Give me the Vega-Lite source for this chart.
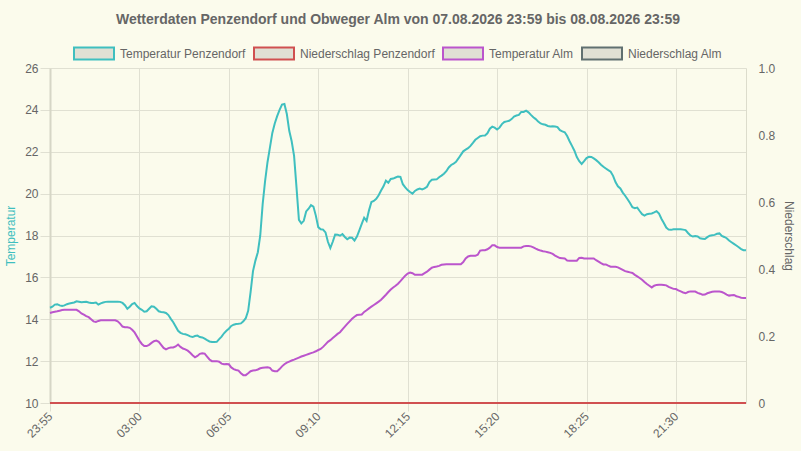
{
  "$schema": "https://vega.github.io/schema/vega-lite/v6.json",
  "autosize": {"type": "none"},
  "width": 696,
  "height": 335,
  "padding": {"left": 50, "top": 68, "right": 55, "bottom": 48},
  "background": "#fbfbec",
  "title": {
    "text": "Wetterdaten Penzendorf und Obweger Alm von 07.08.2026 23:59 bis 08.08.2026 23:59",
    "fontSize": 14,
    "fontWeight": "bold",
    "color": "#666666",
    "anchor": "middle",
    "baseline": "bottom",
    "offset": 8,
    "dy": 16
  },
  "data": {
    "values": [
      {"t":"2026-08-07T23:55","tp":14.55,"ta":14.3,"np":0,"na":0},
      {"t":"2026-08-08T00:00","tp":14.6,"ta":14.33,"np":0,"na":0},
      {"t":"2026-08-08T00:05","tp":14.7,"ta":14.36,"np":0,"na":0},
      {"t":"2026-08-08T00:10","tp":14.72,"ta":14.38,"np":0,"na":0},
      {"t":"2026-08-08T00:15","tp":14.66,"ta":14.41,"np":0,"na":0},
      {"t":"2026-08-08T00:20","tp":14.63,"ta":14.44,"np":0,"na":0},
      {"t":"2026-08-08T00:25","tp":14.66,"ta":14.45,"np":0,"na":0},
      {"t":"2026-08-08T00:30","tp":14.72,"ta":14.45,"np":0,"na":0},
      {"t":"2026-08-08T00:35","tp":14.75,"ta":14.45,"np":0,"na":0},
      {"t":"2026-08-08T00:40","tp":14.78,"ta":14.45,"np":0,"na":0},
      {"t":"2026-08-08T00:45","tp":14.8,"ta":14.45,"np":0,"na":0},
      {"t":"2026-08-08T00:50","tp":14.86,"ta":14.45,"np":0,"na":0},
      {"t":"2026-08-08T00:55","tp":14.84,"ta":14.38,"np":0,"na":0},
      {"t":"2026-08-08T01:00","tp":14.81,"ta":14.28,"np":0,"na":0},
      {"t":"2026-08-08T01:05","tp":14.82,"ta":14.22,"np":0,"na":0},
      {"t":"2026-08-08T01:10","tp":14.83,"ta":14.15,"np":0,"na":0},
      {"t":"2026-08-08T01:15","tp":14.8,"ta":14.1,"np":0,"na":0},
      {"t":"2026-08-08T01:20","tp":14.78,"ta":14.0,"np":0,"na":0},
      {"t":"2026-08-08T01:25","tp":14.78,"ta":13.9,"np":0,"na":0},
      {"t":"2026-08-08T01:30","tp":14.8,"ta":13.87,"np":0,"na":0},
      {"t":"2026-08-08T01:35","tp":14.7,"ta":13.92,"np":0,"na":0},
      {"t":"2026-08-08T01:40","tp":14.76,"ta":13.95,"np":0,"na":0},
      {"t":"2026-08-08T01:45","tp":14.8,"ta":13.95,"np":0,"na":0},
      {"t":"2026-08-08T01:50","tp":14.83,"ta":13.95,"np":0,"na":0},
      {"t":"2026-08-08T01:55","tp":14.84,"ta":13.95,"np":0,"na":0},
      {"t":"2026-08-08T02:00","tp":14.84,"ta":13.95,"np":0,"na":0},
      {"t":"2026-08-08T02:05","tp":14.84,"ta":13.95,"np":0,"na":0},
      {"t":"2026-08-08T02:10","tp":14.84,"ta":13.95,"np":0,"na":0},
      {"t":"2026-08-08T02:15","tp":14.84,"ta":13.9,"np":0,"na":0},
      {"t":"2026-08-08T02:20","tp":14.83,"ta":13.79,"np":0,"na":0},
      {"t":"2026-08-08T02:25","tp":14.78,"ta":13.65,"np":0,"na":0},
      {"t":"2026-08-08T02:30","tp":14.67,"ta":13.62,"np":0,"na":0},
      {"t":"2026-08-08T02:35","tp":14.5,"ta":13.62,"np":0,"na":0},
      {"t":"2026-08-08T02:40","tp":14.6,"ta":13.59,"np":0,"na":0},
      {"t":"2026-08-08T02:45","tp":14.72,"ta":13.5,"np":0,"na":0},
      {"t":"2026-08-08T02:50","tp":14.78,"ta":13.37,"np":0,"na":0},
      {"t":"2026-08-08T02:55","tp":14.63,"ta":13.18,"np":0,"na":0},
      {"t":"2026-08-08T03:00","tp":14.52,"ta":12.98,"np":0,"na":0},
      {"t":"2026-08-08T03:05","tp":14.45,"ta":12.82,"np":0,"na":0},
      {"t":"2026-08-08T03:10","tp":14.36,"ta":12.72,"np":0,"na":0},
      {"t":"2026-08-08T03:15","tp":14.38,"ta":12.72,"np":0,"na":0},
      {"t":"2026-08-08T03:20","tp":14.5,"ta":12.78,"np":0,"na":0},
      {"t":"2026-08-08T03:25","tp":14.62,"ta":12.87,"np":0,"na":0},
      {"t":"2026-08-08T03:30","tp":14.6,"ta":12.95,"np":0,"na":0},
      {"t":"2026-08-08T03:35","tp":14.5,"ta":12.98,"np":0,"na":0},
      {"t":"2026-08-08T03:40","tp":14.38,"ta":12.92,"np":0,"na":0},
      {"t":"2026-08-08T03:45","tp":14.35,"ta":12.78,"np":0,"na":0},
      {"t":"2026-08-08T03:50","tp":14.33,"ta":12.63,"np":0,"na":0},
      {"t":"2026-08-08T03:55","tp":14.3,"ta":12.56,"np":0,"na":0},
      {"t":"2026-08-08T04:00","tp":14.2,"ta":12.62,"np":0,"na":0},
      {"t":"2026-08-08T04:05","tp":14.02,"ta":12.65,"np":0,"na":0},
      {"t":"2026-08-08T04:10","tp":13.86,"ta":12.65,"np":0,"na":0},
      {"t":"2026-08-08T04:15","tp":13.65,"ta":12.7,"np":0,"na":0},
      {"t":"2026-08-08T04:20","tp":13.45,"ta":12.79,"np":0,"na":0},
      {"t":"2026-08-08T04:25","tp":13.35,"ta":12.68,"np":0,"na":0},
      {"t":"2026-08-08T04:30","tp":13.3,"ta":12.6,"np":0,"na":0},
      {"t":"2026-08-08T04:35","tp":13.28,"ta":12.56,"np":0,"na":0},
      {"t":"2026-08-08T04:40","tp":13.24,"ta":12.5,"np":0,"na":0},
      {"t":"2026-08-08T04:45","tp":13.18,"ta":12.4,"np":0,"na":0},
      {"t":"2026-08-08T04:50","tp":13.15,"ta":12.28,"np":0,"na":0},
      {"t":"2026-08-08T04:55","tp":13.2,"ta":12.18,"np":0,"na":0},
      {"t":"2026-08-08T05:00","tp":13.22,"ta":12.25,"np":0,"na":0},
      {"t":"2026-08-08T05:05","tp":13.15,"ta":12.35,"np":0,"na":0},
      {"t":"2026-08-08T05:10","tp":13.13,"ta":12.38,"np":0,"na":0},
      {"t":"2026-08-08T05:15","tp":13.07,"ta":12.36,"np":0,"na":0},
      {"t":"2026-08-08T05:20","tp":13.0,"ta":12.22,"np":0,"na":0},
      {"t":"2026-08-08T05:25","tp":12.94,"ta":12.08,"np":0,"na":0},
      {"t":"2026-08-08T05:30","tp":12.91,"ta":12.0,"np":0,"na":0},
      {"t":"2026-08-08T05:35","tp":12.91,"ta":12.0,"np":0,"na":0},
      {"t":"2026-08-08T05:40","tp":12.92,"ta":12.0,"np":0,"na":0},
      {"t":"2026-08-08T05:45","tp":13.05,"ta":11.97,"np":0,"na":0},
      {"t":"2026-08-08T05:50","tp":13.17,"ta":11.88,"np":0,"na":0},
      {"t":"2026-08-08T05:55","tp":13.33,"ta":11.85,"np":0,"na":0},
      {"t":"2026-08-08T06:00","tp":13.45,"ta":11.86,"np":0,"na":0},
      {"t":"2026-08-08T06:05","tp":13.55,"ta":11.85,"np":0,"na":0},
      {"t":"2026-08-08T06:10","tp":13.68,"ta":11.7,"np":0,"na":0},
      {"t":"2026-08-08T06:15","tp":13.74,"ta":11.62,"np":0,"na":0},
      {"t":"2026-08-08T06:20","tp":13.77,"ta":11.58,"np":0,"na":0},
      {"t":"2026-08-08T06:25","tp":13.78,"ta":11.55,"np":0,"na":0},
      {"t":"2026-08-08T06:30","tp":13.8,"ta":11.42,"np":0,"na":0},
      {"t":"2026-08-08T06:35","tp":13.9,"ta":11.33,"np":0,"na":0},
      {"t":"2026-08-08T06:40","tp":14.05,"ta":11.33,"np":0,"na":0},
      {"t":"2026-08-08T06:45","tp":14.4,"ta":11.42,"np":0,"na":0},
      {"t":"2026-08-08T06:50","tp":15.3,"ta":11.52,"np":0,"na":0},
      {"t":"2026-08-08T06:55","tp":16.3,"ta":11.55,"np":0,"na":0},
      {"t":"2026-08-08T07:00","tp":16.8,"ta":11.56,"np":0,"na":0},
      {"t":"2026-08-08T07:05","tp":17.2,"ta":11.6,"np":0,"na":0},
      {"t":"2026-08-08T07:10","tp":18.0,"ta":11.66,"np":0,"na":0},
      {"t":"2026-08-08T07:15","tp":19.5,"ta":11.68,"np":0,"na":0},
      {"t":"2026-08-08T07:20","tp":20.6,"ta":11.7,"np":0,"na":0},
      {"t":"2026-08-08T07:25","tp":21.5,"ta":11.71,"np":0,"na":0},
      {"t":"2026-08-08T07:30","tp":22.2,"ta":11.68,"np":0,"na":0},
      {"t":"2026-08-08T07:35","tp":22.9,"ta":11.55,"np":0,"na":0},
      {"t":"2026-08-08T07:40","tp":23.35,"ta":11.52,"np":0,"na":0},
      {"t":"2026-08-08T07:45","tp":23.7,"ta":11.52,"np":0,"na":0},
      {"t":"2026-08-08T07:50","tp":24.0,"ta":11.62,"np":0,"na":0},
      {"t":"2026-08-08T07:55","tp":24.25,"ta":11.75,"np":0,"na":0},
      {"t":"2026-08-08T08:00","tp":24.28,"ta":11.85,"np":0,"na":0},
      {"t":"2026-08-08T08:05","tp":23.8,"ta":11.93,"np":0,"na":0},
      {"t":"2026-08-08T08:10","tp":23.0,"ta":11.98,"np":0,"na":0},
      {"t":"2026-08-08T08:15","tp":22.5,"ta":12.03,"np":0,"na":0},
      {"t":"2026-08-08T08:20","tp":21.8,"ta":12.07,"np":0,"na":0},
      {"t":"2026-08-08T08:25","tp":20.3,"ta":12.12,"np":0,"na":0},
      {"t":"2026-08-08T08:30","tp":18.75,"ta":12.17,"np":0,"na":0},
      {"t":"2026-08-08T08:35","tp":18.58,"ta":12.22,"np":0,"na":0},
      {"t":"2026-08-08T08:40","tp":18.7,"ta":12.26,"np":0,"na":0},
      {"t":"2026-08-08T08:45","tp":19.15,"ta":12.3,"np":0,"na":0},
      {"t":"2026-08-08T08:50","tp":19.28,"ta":12.34,"np":0,"na":0},
      {"t":"2026-08-08T08:55","tp":19.45,"ta":12.38,"np":0,"na":0},
      {"t":"2026-08-08T09:00","tp":19.38,"ta":12.42,"np":0,"na":0},
      {"t":"2026-08-08T09:05","tp":18.95,"ta":12.47,"np":0,"na":0},
      {"t":"2026-08-08T09:10","tp":18.4,"ta":12.53,"np":0,"na":0},
      {"t":"2026-08-08T09:15","tp":18.3,"ta":12.58,"np":0,"na":0},
      {"t":"2026-08-08T09:20","tp":18.28,"ta":12.68,"np":0,"na":0},
      {"t":"2026-08-08T09:25","tp":18.15,"ta":12.8,"np":0,"na":0},
      {"t":"2026-08-08T09:30","tp":17.7,"ta":12.92,"np":0,"na":0},
      {"t":"2026-08-08T09:35","tp":17.4,"ta":13.0,"np":0,"na":0},
      {"t":"2026-08-08T09:40","tp":17.7,"ta":13.1,"np":0,"na":0},
      {"t":"2026-08-08T09:45","tp":18.05,"ta":13.2,"np":0,"na":0},
      {"t":"2026-08-08T09:50","tp":18.04,"ta":13.3,"np":0,"na":0},
      {"t":"2026-08-08T09:55","tp":17.99,"ta":13.38,"np":0,"na":0},
      {"t":"2026-08-08T10:00","tp":18.07,"ta":13.52,"np":0,"na":0},
      {"t":"2026-08-08T10:05","tp":17.93,"ta":13.65,"np":0,"na":0},
      {"t":"2026-08-08T10:10","tp":17.82,"ta":13.78,"np":0,"na":0},
      {"t":"2026-08-08T10:15","tp":17.9,"ta":13.9,"np":0,"na":0},
      {"t":"2026-08-08T10:20","tp":17.89,"ta":14.02,"np":0,"na":0},
      {"t":"2026-08-08T10:25","tp":17.76,"ta":14.12,"np":0,"na":0},
      {"t":"2026-08-08T10:30","tp":17.95,"ta":14.2,"np":0,"na":0},
      {"t":"2026-08-08T10:35","tp":18.25,"ta":14.22,"np":0,"na":0},
      {"t":"2026-08-08T10:40","tp":18.55,"ta":14.23,"np":0,"na":0},
      {"t":"2026-08-08T10:45","tp":18.85,"ta":14.35,"np":0,"na":0},
      {"t":"2026-08-08T10:50","tp":18.7,"ta":14.43,"np":0,"na":0},
      {"t":"2026-08-08T10:55","tp":19.2,"ta":14.52,"np":0,"na":0},
      {"t":"2026-08-08T11:00","tp":19.6,"ta":14.6,"np":0,"na":0},
      {"t":"2026-08-08T11:05","tp":19.65,"ta":14.68,"np":0,"na":0},
      {"t":"2026-08-08T11:10","tp":19.75,"ta":14.76,"np":0,"na":0},
      {"t":"2026-08-08T11:15","tp":19.92,"ta":14.84,"np":0,"na":0},
      {"t":"2026-08-08T11:20","tp":20.15,"ta":14.93,"np":0,"na":0},
      {"t":"2026-08-08T11:25","tp":20.35,"ta":15.05,"np":0,"na":0},
      {"t":"2026-08-08T11:30","tp":20.62,"ta":15.17,"np":0,"na":0},
      {"t":"2026-08-08T11:35","tp":20.52,"ta":15.3,"np":0,"na":0},
      {"t":"2026-08-08T11:40","tp":20.7,"ta":15.42,"np":0,"na":0},
      {"t":"2026-08-08T11:45","tp":20.72,"ta":15.52,"np":0,"na":0},
      {"t":"2026-08-08T11:50","tp":20.77,"ta":15.6,"np":0,"na":0},
      {"t":"2026-08-08T11:55","tp":20.82,"ta":15.7,"np":0,"na":0},
      {"t":"2026-08-08T12:00","tp":20.8,"ta":15.82,"np":0,"na":0},
      {"t":"2026-08-08T12:05","tp":20.45,"ta":15.95,"np":0,"na":0},
      {"t":"2026-08-08T12:10","tp":20.3,"ta":16.08,"np":0,"na":0},
      {"t":"2026-08-08T12:15","tp":20.17,"ta":16.18,"np":0,"na":0},
      {"t":"2026-08-08T12:20","tp":20.08,"ta":16.23,"np":0,"na":0},
      {"t":"2026-08-08T12:25","tp":20.0,"ta":16.2,"np":0,"na":0},
      {"t":"2026-08-08T12:30","tp":20.13,"ta":16.12,"np":0,"na":0},
      {"t":"2026-08-08T12:35","tp":20.2,"ta":16.12,"np":0,"na":0},
      {"t":"2026-08-08T12:40","tp":20.24,"ta":16.12,"np":0,"na":0},
      {"t":"2026-08-08T12:45","tp":20.2,"ta":16.13,"np":0,"na":0},
      {"t":"2026-08-08T12:50","tp":20.25,"ta":16.2,"np":0,"na":0},
      {"t":"2026-08-08T12:55","tp":20.33,"ta":16.27,"np":0,"na":0},
      {"t":"2026-08-08T13:00","tp":20.55,"ta":16.37,"np":0,"na":0},
      {"t":"2026-08-08T13:05","tp":20.66,"ta":16.46,"np":0,"na":0},
      {"t":"2026-08-08T13:10","tp":20.67,"ta":16.5,"np":0,"na":0},
      {"t":"2026-08-08T13:15","tp":20.68,"ta":16.52,"np":0,"na":0},
      {"t":"2026-08-08T13:20","tp":20.78,"ta":16.55,"np":0,"na":0},
      {"t":"2026-08-08T13:25","tp":20.86,"ta":16.6,"np":0,"na":0},
      {"t":"2026-08-08T13:30","tp":20.95,"ta":16.62,"np":0,"na":0},
      {"t":"2026-08-08T13:35","tp":21.07,"ta":16.63,"np":0,"na":0},
      {"t":"2026-08-08T13:40","tp":21.25,"ta":16.63,"np":0,"na":0},
      {"t":"2026-08-08T13:45","tp":21.37,"ta":16.63,"np":0,"na":0},
      {"t":"2026-08-08T13:50","tp":21.43,"ta":16.63,"np":0,"na":0},
      {"t":"2026-08-08T13:55","tp":21.52,"ta":16.63,"np":0,"na":0},
      {"t":"2026-08-08T14:00","tp":21.68,"ta":16.63,"np":0,"na":0},
      {"t":"2026-08-08T14:05","tp":21.85,"ta":16.63,"np":0,"na":0},
      {"t":"2026-08-08T14:10","tp":22.02,"ta":16.73,"np":0,"na":0},
      {"t":"2026-08-08T14:15","tp":22.1,"ta":16.9,"np":0,"na":0},
      {"t":"2026-08-08T14:20","tp":22.17,"ta":17.0,"np":0,"na":0},
      {"t":"2026-08-08T14:25","tp":22.28,"ta":17.03,"np":0,"na":0},
      {"t":"2026-08-08T14:30","tp":22.42,"ta":17.03,"np":0,"na":0},
      {"t":"2026-08-08T14:35","tp":22.57,"ta":17.03,"np":0,"na":0},
      {"t":"2026-08-08T14:40","tp":22.66,"ta":17.08,"np":0,"na":0},
      {"t":"2026-08-08T14:45","tp":22.74,"ta":17.28,"np":0,"na":0},
      {"t":"2026-08-08T14:50","tp":22.77,"ta":17.3,"np":0,"na":0},
      {"t":"2026-08-08T14:55","tp":22.78,"ta":17.3,"np":0,"na":0},
      {"t":"2026-08-08T15:00","tp":22.88,"ta":17.34,"np":0,"na":0},
      {"t":"2026-08-08T15:05","tp":23.1,"ta":17.42,"np":0,"na":0},
      {"t":"2026-08-08T15:10","tp":23.2,"ta":17.53,"np":0,"na":0},
      {"t":"2026-08-08T15:15","tp":23.15,"ta":17.53,"np":0,"na":0},
      {"t":"2026-08-08T15:20","tp":23.06,"ta":17.45,"np":0,"na":0},
      {"t":"2026-08-08T15:25","tp":23.15,"ta":17.42,"np":0,"na":0},
      {"t":"2026-08-08T15:30","tp":23.32,"ta":17.42,"np":0,"na":0},
      {"t":"2026-08-08T15:35","tp":23.42,"ta":17.42,"np":0,"na":0},
      {"t":"2026-08-08T15:40","tp":23.45,"ta":17.42,"np":0,"na":0},
      {"t":"2026-08-08T15:45","tp":23.48,"ta":17.42,"np":0,"na":0},
      {"t":"2026-08-08T15:50","tp":23.56,"ta":17.42,"np":0,"na":0},
      {"t":"2026-08-08T15:55","tp":23.68,"ta":17.42,"np":0,"na":0},
      {"t":"2026-08-08T16:00","tp":23.73,"ta":17.42,"np":0,"na":0},
      {"t":"2026-08-08T16:05","tp":23.76,"ta":17.42,"np":0,"na":0},
      {"t":"2026-08-08T16:10","tp":23.9,"ta":17.42,"np":0,"na":0},
      {"t":"2026-08-08T16:15","tp":23.9,"ta":17.48,"np":0,"na":0},
      {"t":"2026-08-08T16:20","tp":23.96,"ta":17.5,"np":0,"na":0},
      {"t":"2026-08-08T16:25","tp":23.88,"ta":17.5,"np":0,"na":0},
      {"t":"2026-08-08T16:30","tp":23.76,"ta":17.48,"np":0,"na":0},
      {"t":"2026-08-08T16:35","tp":23.65,"ta":17.43,"np":0,"na":0},
      {"t":"2026-08-08T16:40","tp":23.56,"ta":17.37,"np":0,"na":0},
      {"t":"2026-08-08T16:45","tp":23.44,"ta":17.32,"np":0,"na":0},
      {"t":"2026-08-08T16:50","tp":23.35,"ta":17.28,"np":0,"na":0},
      {"t":"2026-08-08T16:55","tp":23.31,"ta":17.25,"np":0,"na":0},
      {"t":"2026-08-08T17:00","tp":23.29,"ta":17.23,"np":0,"na":0},
      {"t":"2026-08-08T17:05","tp":23.23,"ta":17.2,"np":0,"na":0},
      {"t":"2026-08-08T17:10","tp":23.21,"ta":17.17,"np":0,"na":0},
      {"t":"2026-08-08T17:15","tp":23.22,"ta":17.12,"np":0,"na":0},
      {"t":"2026-08-08T17:20","tp":23.21,"ta":17.04,"np":0,"na":0},
      {"t":"2026-08-08T17:25","tp":23.18,"ta":16.98,"np":0,"na":0},
      {"t":"2026-08-08T17:30","tp":23.03,"ta":16.92,"np":0,"na":0},
      {"t":"2026-08-08T17:35","tp":22.97,"ta":16.91,"np":0,"na":0},
      {"t":"2026-08-08T17:40","tp":22.93,"ta":16.9,"np":0,"na":0},
      {"t":"2026-08-08T17:45","tp":22.75,"ta":16.81,"np":0,"na":0},
      {"t":"2026-08-08T17:50","tp":22.5,"ta":16.8,"np":0,"na":0},
      {"t":"2026-08-08T17:55","tp":22.28,"ta":16.8,"np":0,"na":0},
      {"t":"2026-08-08T18:00","tp":22.05,"ta":16.8,"np":0,"na":0},
      {"t":"2026-08-08T18:05","tp":21.75,"ta":16.8,"np":0,"na":0},
      {"t":"2026-08-08T18:10","tp":21.55,"ta":16.93,"np":0,"na":0},
      {"t":"2026-08-08T18:15","tp":21.42,"ta":16.94,"np":0,"na":0},
      {"t":"2026-08-08T18:20","tp":21.55,"ta":16.9,"np":0,"na":0},
      {"t":"2026-08-08T18:25","tp":21.7,"ta":16.9,"np":0,"na":0},
      {"t":"2026-08-08T18:30","tp":21.76,"ta":16.9,"np":0,"na":0},
      {"t":"2026-08-08T18:35","tp":21.75,"ta":16.9,"np":0,"na":0},
      {"t":"2026-08-08T18:40","tp":21.68,"ta":16.9,"np":0,"na":0},
      {"t":"2026-08-08T18:45","tp":21.6,"ta":16.82,"np":0,"na":0},
      {"t":"2026-08-08T18:50","tp":21.5,"ta":16.75,"np":0,"na":0},
      {"t":"2026-08-08T18:55","tp":21.38,"ta":16.68,"np":0,"na":0},
      {"t":"2026-08-08T19:00","tp":21.28,"ta":16.62,"np":0,"na":0},
      {"t":"2026-08-08T19:05","tp":21.2,"ta":16.62,"np":0,"na":0},
      {"t":"2026-08-08T19:10","tp":21.12,"ta":16.56,"np":0,"na":0},
      {"t":"2026-08-08T19:15","tp":21.05,"ta":16.51,"np":0,"na":0},
      {"t":"2026-08-08T19:20","tp":20.85,"ta":16.51,"np":0,"na":0},
      {"t":"2026-08-08T19:25","tp":20.55,"ta":16.51,"np":0,"na":0},
      {"t":"2026-08-08T19:30","tp":20.35,"ta":16.48,"np":0,"na":0},
      {"t":"2026-08-08T19:35","tp":20.25,"ta":16.42,"np":0,"na":0},
      {"t":"2026-08-08T19:40","tp":20.05,"ta":16.36,"np":0,"na":0},
      {"t":"2026-08-08T19:45","tp":19.9,"ta":16.3,"np":0,"na":0},
      {"t":"2026-08-08T19:50","tp":19.73,"ta":16.27,"np":0,"na":0},
      {"t":"2026-08-08T19:55","tp":19.55,"ta":16.24,"np":0,"na":0},
      {"t":"2026-08-08T20:00","tp":19.35,"ta":16.21,"np":0,"na":0},
      {"t":"2026-08-08T20:05","tp":19.3,"ta":16.12,"np":0,"na":0},
      {"t":"2026-08-08T20:10","tp":19.33,"ta":16.05,"np":0,"na":0},
      {"t":"2026-08-08T20:15","tp":19.17,"ta":15.97,"np":0,"na":0},
      {"t":"2026-08-08T20:20","tp":19.02,"ta":15.89,"np":0,"na":0},
      {"t":"2026-08-08T20:25","tp":18.95,"ta":15.78,"np":0,"na":0},
      {"t":"2026-08-08T20:30","tp":19.02,"ta":15.68,"np":0,"na":0},
      {"t":"2026-08-08T20:35","tp":19.04,"ta":15.6,"np":0,"na":0},
      {"t":"2026-08-08T20:40","tp":19.05,"ta":15.52,"np":0,"na":0},
      {"t":"2026-08-08T20:45","tp":19.1,"ta":15.6,"np":0,"na":0},
      {"t":"2026-08-08T20:50","tp":19.16,"ta":15.64,"np":0,"na":0},
      {"t":"2026-08-08T20:55","tp":19.05,"ta":15.65,"np":0,"na":0},
      {"t":"2026-08-08T21:00","tp":18.8,"ta":15.65,"np":0,"na":0},
      {"t":"2026-08-08T21:05","tp":18.6,"ta":15.64,"np":0,"na":0},
      {"t":"2026-08-08T21:10","tp":18.38,"ta":15.62,"np":0,"na":0},
      {"t":"2026-08-08T21:15","tp":18.28,"ta":15.55,"np":0,"na":0},
      {"t":"2026-08-08T21:20","tp":18.27,"ta":15.5,"np":0,"na":0},
      {"t":"2026-08-08T21:25","tp":18.3,"ta":15.45,"np":0,"na":0},
      {"t":"2026-08-08T21:30","tp":18.3,"ta":15.44,"np":0,"na":0},
      {"t":"2026-08-08T21:35","tp":18.3,"ta":15.38,"np":0,"na":0},
      {"t":"2026-08-08T21:40","tp":18.3,"ta":15.33,"np":0,"na":0},
      {"t":"2026-08-08T21:45","tp":18.28,"ta":15.28,"np":0,"na":0},
      {"t":"2026-08-08T21:50","tp":18.26,"ta":15.24,"np":0,"na":0},
      {"t":"2026-08-08T21:55","tp":18.12,"ta":15.3,"np":0,"na":0},
      {"t":"2026-08-08T22:00","tp":18.0,"ta":15.33,"np":0,"na":0},
      {"t":"2026-08-08T22:05","tp":17.95,"ta":15.32,"np":0,"na":0},
      {"t":"2026-08-08T22:10","tp":17.98,"ta":15.32,"np":0,"na":0},
      {"t":"2026-08-08T22:15","tp":17.95,"ta":15.26,"np":0,"na":0},
      {"t":"2026-08-08T22:20","tp":17.87,"ta":15.22,"np":0,"na":0},
      {"t":"2026-08-08T22:25","tp":17.85,"ta":15.17,"np":0,"na":0},
      {"t":"2026-08-08T22:30","tp":17.83,"ta":15.18,"np":0,"na":0},
      {"t":"2026-08-08T22:35","tp":17.92,"ta":15.24,"np":0,"na":0},
      {"t":"2026-08-08T22:40","tp":17.99,"ta":15.28,"np":0,"na":0},
      {"t":"2026-08-08T22:45","tp":18.01,"ta":15.31,"np":0,"na":0},
      {"t":"2026-08-08T22:50","tp":18.03,"ta":15.32,"np":0,"na":0},
      {"t":"2026-08-08T22:55","tp":18.08,"ta":15.32,"np":0,"na":0},
      {"t":"2026-08-08T23:00","tp":18.1,"ta":15.32,"np":0,"na":0},
      {"t":"2026-08-08T23:05","tp":17.98,"ta":15.3,"np":0,"na":0},
      {"t":"2026-08-08T23:10","tp":17.93,"ta":15.25,"np":0,"na":0},
      {"t":"2026-08-08T23:15","tp":17.87,"ta":15.18,"np":0,"na":0},
      {"t":"2026-08-08T23:20","tp":17.76,"ta":15.13,"np":0,"na":0},
      {"t":"2026-08-08T23:25","tp":17.68,"ta":15.15,"np":0,"na":0},
      {"t":"2026-08-08T23:30","tp":17.6,"ta":15.16,"np":0,"na":0},
      {"t":"2026-08-08T23:35","tp":17.52,"ta":15.1,"np":0,"na":0},
      {"t":"2026-08-08T23:40","tp":17.44,"ta":15.07,"np":0,"na":0},
      {"t":"2026-08-08T23:45","tp":17.35,"ta":15.03,"np":0,"na":0},
      {"t":"2026-08-08T23:50","tp":17.3,"ta":15.02,"np":0,"na":0},
      {"t":"2026-08-08T23:55","tp":17.29,"ta":15.02,"np":0,"na":0}
    ]
  },
  "encoding": {
    "x": {
      "field": "t",
      "type": "temporal",
      "title": null,
      "scale": {
        "domain": [
          {"year": 2026, "month": 8, "date": 7, "hours": 23, "minutes": 55},
          {"year": 2026, "month": 8, "date": 8, "hours": 23, "minutes": 55}
        ],
        "nice": false
      },
      "axis": {
        "values": [
          {"year": 2026, "month": 8, "date": 7, "hours": 23, "minutes": 55},
          {"year": 2026, "month": 8, "date": 8, "hours": 3, "minutes": 0},
          {"year": 2026, "month": 8, "date": 8, "hours": 6, "minutes": 5},
          {"year": 2026, "month": 8, "date": 8, "hours": 9, "minutes": 10},
          {"year": 2026, "month": 8, "date": 8, "hours": 12, "minutes": 15},
          {"year": 2026, "month": 8, "date": 8, "hours": 15, "minutes": 20},
          {"year": 2026, "month": 8, "date": 8, "hours": 18, "minutes": 25},
          {"year": 2026, "month": 8, "date": 8, "hours": 21, "minutes": 30}
        ],
        "format": "%H:%M",
        "labelAngle": -45,
        "labelAlign": "right",
        "labelBaseline": "middle",
        "labelPadding": 3,
        "labelOverlap": false,
        "tickSize": 8,
        "domain": false,
        "grid": true
      }
    }
  },
  "layer": [
    {
      "layer": [
        {
          "mark": {"type": "line", "strokeWidth": 2},
          "encoding": {
            "y": {
              "field": "tp",
              "type": "quantitative",
              "title": "Temperatur",
              "scale": {"domain": [10, 26], "nice": false, "zero": false},
              "axis": {
                "orient": "left",
                "values": [10, 12, 14, 16, 18, 20, 22, 24, 26],
                "tickSize": 10,
                "labelPadding": 2,
                "titleColor": "#3fbfbf",
                "titlePadding": 7,
                "domainColor": "#d6d6c6",
                "domainWidth": 2,
                "grid": true
              }
            },
            "color": {
              "datum": "Temperatur Penzendorf",
              "type": "nominal",
              "scale": {
                "domain": ["Temperatur Penzendorf", "Niederschlag Penzendorf", "Temperatur Alm", "Niederschlag Alm"],
                "range": ["#3fbfbf", "#d05050", "#bb55cc", "#607070"]
              },
              "legend": {
                "title": null,
                "orient": "none",
                "legendX": 23,
                "legendY": -35.5,
                "direction": "horizontal",
                "columns": 4,
                "columnPadding": 4,
                "padding": 0,
                "symbolType": "M-1,-0.3H1V0.3H-1Z",
                "symbolSize": 1600,
                "symbolStrokeWidth": 2,
                "symbolFillColor": "#e0e0d4",
                "symbolOpacity": 1,
                "labelOffset": 5,
                "labelFontSize": 12,
                "labelColor": "#666666",
                "labelLimit": 300,
                "encode": {
                  "symbols": {"update": {"fill": {"value": "#e0e0d4"}, "fillOpacity": {"value": 1}, "strokeWidth": {"value": 2}}}
                }
              }
            }
          }
        },
        {
          "mark": {"type": "line", "strokeWidth": 2},
          "encoding": {
            "y": {"field": "ta", "type": "quantitative", "title": "Temperatur"},
            "color": {"datum": "Temperatur Alm", "type": "nominal"}
          }
        }
      ]
    },
    {
      "layer": [
        {
          "mark": {"type": "line", "strokeWidth": 2},
          "encoding": {
            "y": {
              "field": "na",
              "type": "quantitative",
              "title": "Niederschlag",
              "scale": {"domain": [0, 1], "nice": false},
              "axis": {
                "orient": "right",
                "values": [0, 0.1, 0.2, 0.3, 0.4, 0.5, 0.6, 0.7, 0.8, 0.9, 1.0],
                "labelExpr": "datum.value == 0 ? '0' : format(datum.value, '.1f')",
                "ticks": false,
                "labelPadding": 12,
                "titlePadding": 7,
                "titleColor": "#666666",
                "domainColor": "#dcdccc",
                "grid": false
              }
            },
            "color": {"datum": "Niederschlag Alm", "type": "nominal"}
          }
        },
        {
          "mark": {"type": "line", "strokeWidth": 2},
          "encoding": {
            "y": {"field": "np", "type": "quantitative", "title": "Niederschlag"},
            "color": {"datum": "Niederschlag Penzendorf", "type": "nominal"}
          }
        }
      ]
    }
  ],
  "resolve": {"scale": {"y": "independent"}},
  "config": {
    "font": "Liberation Sans",
    "view": {"stroke": null},
    "axis": {
      "labelColor": "#666666",
      "labelFontSize": 12,
      "labelFont": "Liberation Sans",
      "titleFont": "Liberation Sans",
      "titleFontSize": 12,
      "titleFontWeight": "normal",
      "gridColor": "#e0e0d2",
      "tickColor": "#e0e0d2"
    },
    "title": {"font": "Liberation Sans"}
  }
}
